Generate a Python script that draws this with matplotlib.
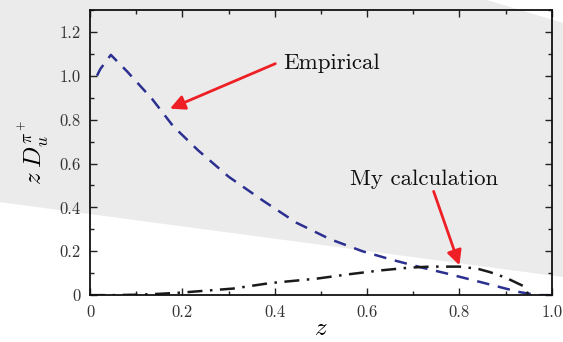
import matplotlib
matplotlib.use('Agg')
import matplotlib.pyplot as plt
from matplotlib.patches import Polygon
from matplotlib.ticker import MultipleLocator, FuncFormatter

# data
emp_z = [0.015, 0.022, 0.045, 0.08, 0.134, 0.18, 0.234, 0.30, 0.375, 0.447, 0.52,
         0.59, 0.656, 0.72, 0.77, 0.845, 0.90, 0.93, 0.97, 1.0]
emp_y = [1.00, 1.03, 1.095, 1.02, 0.895, 0.77, 0.66, 0.54, 0.43, 0.33, 0.255,
         0.20, 0.16, 0.125, 0.10, 0.06, 0.03, 0.014, 0.0, 0.0]

calc_z = [0.0, 0.05, 0.10, 0.15, 0.20, 0.31, 0.39, 0.49, 0.56, 0.63, 0.69,
          0.735, 0.80, 0.84, 0.866, 0.90, 0.94, 0.95]
calc_y = [0.0, 0.0, 0.002, 0.006, 0.012, 0.03, 0.055, 0.075, 0.095, 0.113, 0.125,
          0.13, 0.13, 0.12, 0.105, 0.08, 0.04, 0.0]

xticks = [0, 0.2, 0.4, 0.6, 0.8, 1.0]
yticks = [0, 0.2, 0.4, 0.6, 0.8, 1.0, 1.2]

plt.rcParams['font.family'] = 'serif'
plt.rcParams['font.serif'] = ['cmr10']
plt.rcParams['mathtext.fontset'] = 'cm'
plt.rcParams['axes.formatter.use_mathtext'] = True

fig = plt.figure(figsize=(5.63, 3.42), dpi=100)

# grey backdrop band, figure coordinates
band = Polygon([(0, 1), (0.865, 1), (1, 0.933), (1, 0.19), (0, 0.409)],
               closed=True, transform=fig.transFigure, facecolor='#ebebeb',
               edgecolor='none', zorder=-10)
fig.patches.append(band)

ax = fig.add_axes([0.160, 0.137, 0.820, 0.834])
ax.set_zorder(5)
ax.patch.set_alpha(0)

ax.plot(emp_z, emp_y, color='#2b2f8f', lw=1.8, ls=(0, (5, 3.5)))
ax.plot(calc_z, calc_y, color='#1a1a1a', lw=1.8, ls=(0, (6, 3, 1, 3)))

ax.set_xlim(0, 1.0)
ax.set_ylim(0, 1.3)
ax.set_xticks(xticks)
ax.set_yticks(yticks)
fmt = FuncFormatter(lambda v, p: '0' if v == 0 else '%.1f' % v)
ax.xaxis.set_major_formatter(fmt)
ax.yaxis.set_major_formatter(fmt)
ax.xaxis.set_minor_locator(MultipleLocator(0.1))
ax.yaxis.set_minor_locator(MultipleLocator(0.1))
ax.tick_params(which='both', direction='in', top=True, right=True, labelsize=12,
               width=1.0, colors='#222222', labelcolor='#333333')
ax.tick_params(which='major', length=5, pad=7)
ax.tick_params(which='minor', length=3)
for s in ax.spines.values():
    s.set_linewidth(1.3)
    s.set_color('#111111')

ax.set_xlabel('$z$', fontsize=18, labelpad=-2)
ax.set_ylabel(r'$z\;D_u^{\pi^+}$', fontsize=18, labelpad=6)

# annotations
red = '#ee2026'
ax.annotate('Empirical', xy=(0.173, 0.85), xytext=(0.418, 1.055),
            fontsize=16.5, va='center', ha='left', color='#111111',
            arrowprops=dict(arrowstyle='-|>', color=red, lw=2.0,
                            mutation_scale=22, shrinkA=0, shrinkB=0,
                            relpos=(-0.08, 0.5)))
ax.annotate('My calculation', xy=(0.80, 0.136), xytext=(0.563, 0.53),
            fontsize=16.5, va='center', ha='left', color='#111111',
            arrowprops=dict(arrowstyle='-|>', color=red, lw=2.0,
                            mutation_scale=22, shrinkA=0, shrinkB=0,
                            relpos=(0.56, -0.05)))

fig.savefig('out.png', dpi=100)
